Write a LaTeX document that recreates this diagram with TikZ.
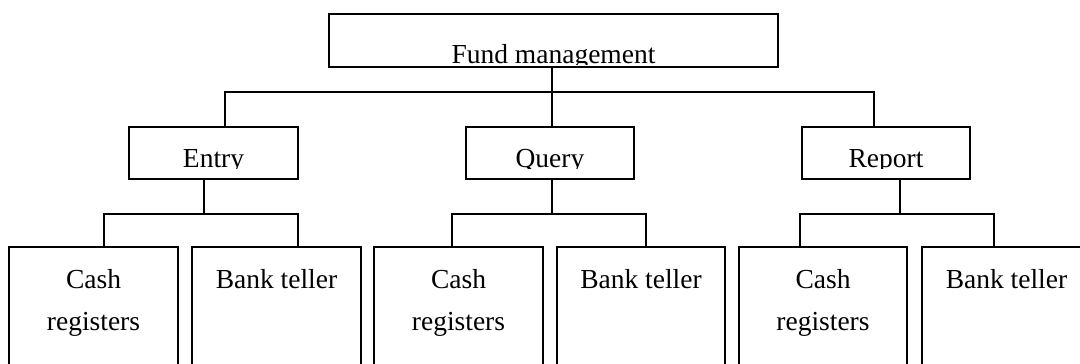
\documentclass[tikz,border=0pt]{standalone}
\usepackage{fontspec}
\setmainfont{Liberation Serif}
\begin{document}
\begin{tikzpicture}[x=1pt,y=-1pt,
  box/.style={draw, line width=1.6pt, inner sep=0pt, outer sep=0pt, anchor=north west},
  wire/.style={line width=1.6pt},
  lbl/.style={anchor=base, inner sep=0pt, font=\fontsize{27.5pt}{33pt}\selectfont}]
\useasboundingbox (0,0) rectangle (1080,364);
\clip (0,0) rectangle (1080,364);
% boxes
\node[box, minimum width=449pt, minimum height=53pt] (fm) at (329,14) {};
\node[box, minimum width=169pt, minimum height=52pt] (entry) at (129,127) {};
\node[box, minimum width=168pt, minimum height=52pt] (query) at (466,127) {};
\node[box, minimum width=168pt, minimum height=52pt] (report) at (802,127) {};
\node[box, minimum width=169pt, minimum height=133pt] (c1) at (9,247) {};
\node[box, minimum width=169pt, minimum height=133pt] (b1) at (192,247) {};
\node[box, minimum width=169pt, minimum height=133pt] (c2) at (374,247) {};
\node[box, minimum width=168pt, minimum height=133pt] (b2) at (557,247) {};
\node[box, minimum width=168pt, minimum height=133pt] (c3) at (739,247) {};
\node[box, minimum width=169pt, minimum height=133pt] (b3) at (922,247) {};
% labels (clipped as in the reference)
\begin{scope}
  \clip (329,14) rectangle (778,64.3);
  \node[lbl] (fmt) at (553.5,63.3) {Fund management};
\end{scope}
\begin{scope}
  \clip (129,127) rectangle (298,168.5);
  \node[lbl] (entryt) at (213.5,167.7) {Entry};
\end{scope}
\begin{scope}
  \clip (466,127) rectangle (634,168.5);
  \node[lbl] (queryt) at (550,167.7) {Query};
\end{scope}
\begin{scope}
  \clip (802,127) rectangle (970,168.5);
  \node[lbl] (reportt) at (886,167.7) {Report};
\end{scope}
\node[lbl] (c1a) at (93.5,288) {Cash};
\node[lbl] (c1b) at (93.5,330) {registers};
\node[lbl] (b1t) at (276.5,288) {Bank teller};
\node[lbl] (c2a) at (458.5,288) {Cash};
\node[lbl] (c2b) at (458.5,330) {registers};
\node[lbl] (b2t) at (641,288) {Bank teller};
\node[lbl] (c3a) at (823,288) {Cash};
\node[lbl] (c3b) at (823,330) {registers};
\node[lbl] (b3t) at (1006.5,288) {Bank teller};
% connector points
\coordinate (bar) at (552,92);
\coordinate (eN) at ([xshift=96pt]entry.north west);
\coordinate (qN) at ([xshift=2pt]query.north);
\coordinate (rN) at ([xshift=72pt]report.north west);
\coordinate (eS) at ([xshift=-9.5pt]entry.south);
\coordinate (qS) at ([xshift=2pt]query.south);
\coordinate (rS) at ([xshift=14pt]report.south);
\coordinate (ej) at (204,214);
\coordinate (qj) at (552,214);
\coordinate (rj) at (900,214);
\coordinate (c1N) at ([xshift=10.5pt]c1.north);
\coordinate (b1N) at ([xshift=21.5pt]b1.north);
\coordinate (c2N) at ([xshift=-6.5pt]c2.north);
\coordinate (b2N) at ([xshift=5pt]b2.north);
\coordinate (c3N) at ([xshift=-23pt]c3.north);
\coordinate (b3N) at ([xshift=-12.5pt]b3.north);
% connectors
\draw[wire] (bar |- fm.south) -- (bar);
\draw[wire] (eN) |- (rN |- bar) -- (rN);
\draw[wire] (qN) -- (qN |- bar);
\draw[wire] (eS) -- (ej);
\draw[wire] (c1N) |- (ej) -| (b1N);
\draw[wire] (qS) -- (qj);
\draw[wire] (c2N) |- (qj) -| (b2N);
\draw[wire] (rS) -- (rj);
\draw[wire] (c3N) |- (rj) -| (b3N);
\end{tikzpicture}
\end{document}
